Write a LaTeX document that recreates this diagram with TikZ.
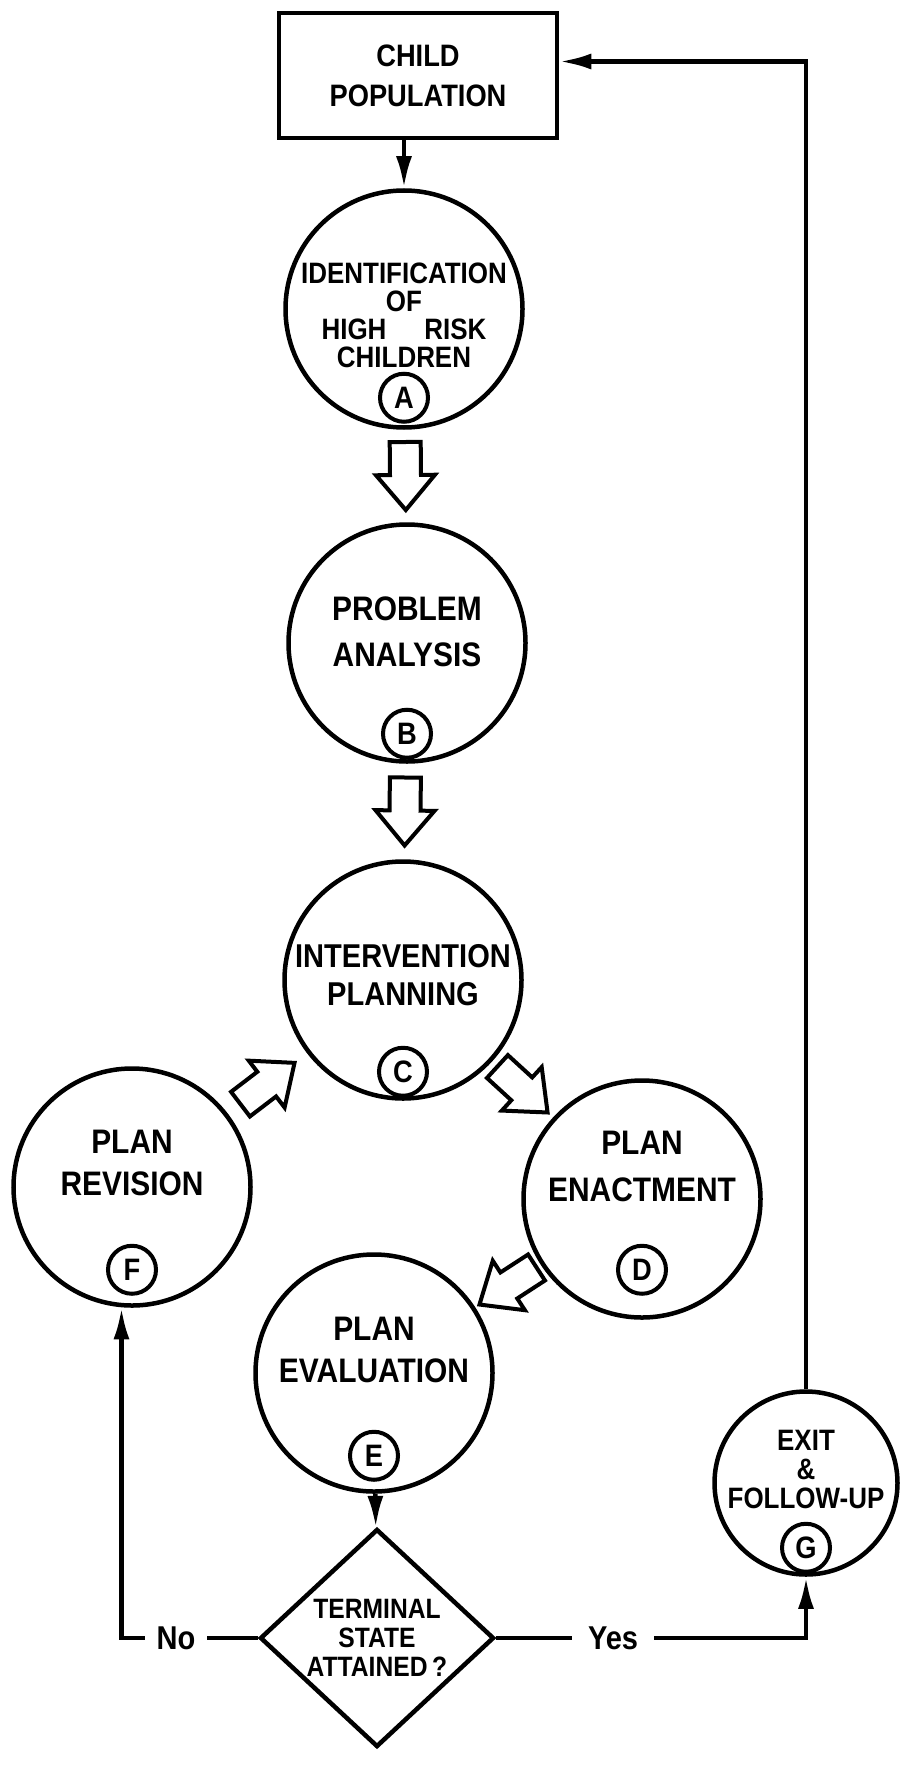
\documentclass[tikz,border=0pt]{standalone}
\usepackage{fontspec}
\setmainfont{Liberation Sans}
\newfontfamily\leroy[FakeStretch=0.88]{Liberation Sans}
\usetikzlibrary{shapes.geometric,arrows.meta,calc,positioning}

\begin{document}
\begin{tikzpicture}[x=1pt,y=1pt]
\tikzstyle{every node}+=[inner sep=0pt]
\tikzstyle{stage}=[draw, circle, line width=4.5pt, minimum size=237pt]
\tikzstyle{stagesmall}=[stage, minimum size=183pt]
\tikzstyle{stagetext}=[align=center, font=\leroy\fontsize{34}{42}\selectfont\bfseries]
\tikzstyle{ring}=[draw, circle, line width=4pt, minimum size=48pt, font=\leroy\fontsize{31}{31}\selectfont\bfseries]
\tikzstyle{flow}=[line width=4.5pt, -{Latex[length=32pt,width=16pt]}]
\tikzstyle{answer}=[fill=white, inner xsep=12pt, font=\leroy\fontsize{33}{33}\selectfont\bfseries]
\tikzset{hollowarrow/.pic={
  \draw[line width=4pt, line join=miter] (-34,-15.5) -- (-1,-15.5) -- (-1,-29.5) -- (34,0)
    -- (-1,29.5) -- (-1,15.5) -- (-34,15.5) -- cycle;}}
\useasboundingbox[fill=white] (0,0) rectangle (901,-1787);

\node[draw, line width=4.5pt, minimum width=278pt, minimum height=125pt, align=center, font=\leroy\fontsize{31}{40}\selectfont\bfseries] (pop) at (418,-75.5) {CHILD\\POPULATION};

\node[stage] (A) at (404,-309) {};
\node[stagetext, font=\leroy\fontsize{29.5}{28}\selectfont\bfseries] (At) at ([yshift=-6pt]A.center) {IDENTIFICATION\\OF\\HIGH\hspace{38pt}RISK\\CHILDREN};
\node[ring, above=6pt of A.south] (Ar) {A};

\node[stage] (B) at (407,-643) {};
\node[stagetext, font=\leroy\fontsize{34}{46}\selectfont\bfseries] (Bt) at ([yshift=11pt]B.center) {PROBLEM\\ANALYSIS};
\node[ring, above=4pt of B.south] (Br) {B};

\node[stage] (C) at (403,-980) {};
\node[stagetext, font=\leroy\fontsize{33}{38}\selectfont\bfseries] (Ct) at ([yshift=5pt]C.center) {INTERVENTION\\PLANNING};
\node[ring, above=3pt of C.south] (Cr) {C};

\node[stage] (D) at (642,-1199) {};
\node[stagetext, font=\leroy\fontsize{34}{47}\selectfont\bfseries] (Dt) at ([yshift=33pt]D.center) {PLAN\\ENACTMENT};
\node[ring, above=24pt of D.south] (Dr) {D};

\node[stage] (E) at (374,-1373) {};
\node[stagetext] (Et) at ([yshift=23pt]E.center) {PLAN\\EVALUATION};
\node[ring, above=12pt of E.south] (Er) {E};

\node[stage] (F) at (132,-1187) {};
\node[stagetext] (Ft) at ([yshift=24pt]F.center) {PLAN\\REVISION};
\node[ring, above=12pt of F.south] (Fr) {F};

\node[stagesmall] (G) at (806,-1483) {};
\node[stagetext, font=\leroy\fontsize{29.5}{29}\selectfont\bfseries] (Gt) at ([yshift=14pt]G.center) {EXIT\\\&\\FOLLOW-UP};
\node[ring, above=3pt of G.south] (Gr) {G};

\node[draw, diamond, line width=4.5pt, minimum width=234pt, minimum height=218pt, align=center, font=\leroy\fontsize{28}{29}\selectfont\bfseries] (T) at (377,-1638) {TERMINAL\\STATE\\ATTAINED\,?};

\path let \p1=($(B)-(A)$), \n1={atan2(\y1,\x1)} in pic[rotate=\n1] at ($(A)!0.5!(B)$) {hollowarrow};
\path let \p1=($(C)-(B)$), \n1={atan2(\y1,\x1)} in pic[rotate=\n1] at ($(B)!0.5!(C)$) {hollowarrow};
\path let \p1=($(D)-(C)$), \n1={atan2(\y1,\x1)} in pic[rotate=\n1] at ($(C)!0.5!(D)$) {hollowarrow};
\path let \p1=($(E)-(D)$), \n1={atan2(\y1,\x1)} in pic[rotate=\n1] at ($(D)!0.5!(E)$) {hollowarrow};
\path let \p1=($(C)-(F)$), \n1={atan2(\y1,\x1)} in pic[rotate=\n1] at ($(F)!0.5!(C)$) {hollowarrow};

\draw[flow] (pop.south -| A) -- (A);
\draw[flow] (E) -- (T);
\draw[flow] (T.west) -- node[answer, pos=0.6] (no) {No} (T.west -| F.-95) -- (F.-95);
\draw[flow] (T.east) -- node[answer, pos=0.377, inner xsep=16pt] (yes) {Yes} (T.east -| G.south) -- (G.south);
\draw[flow] (G.north) |- ([yshift=14pt]pop.east);
\end{tikzpicture}
\end{document}
